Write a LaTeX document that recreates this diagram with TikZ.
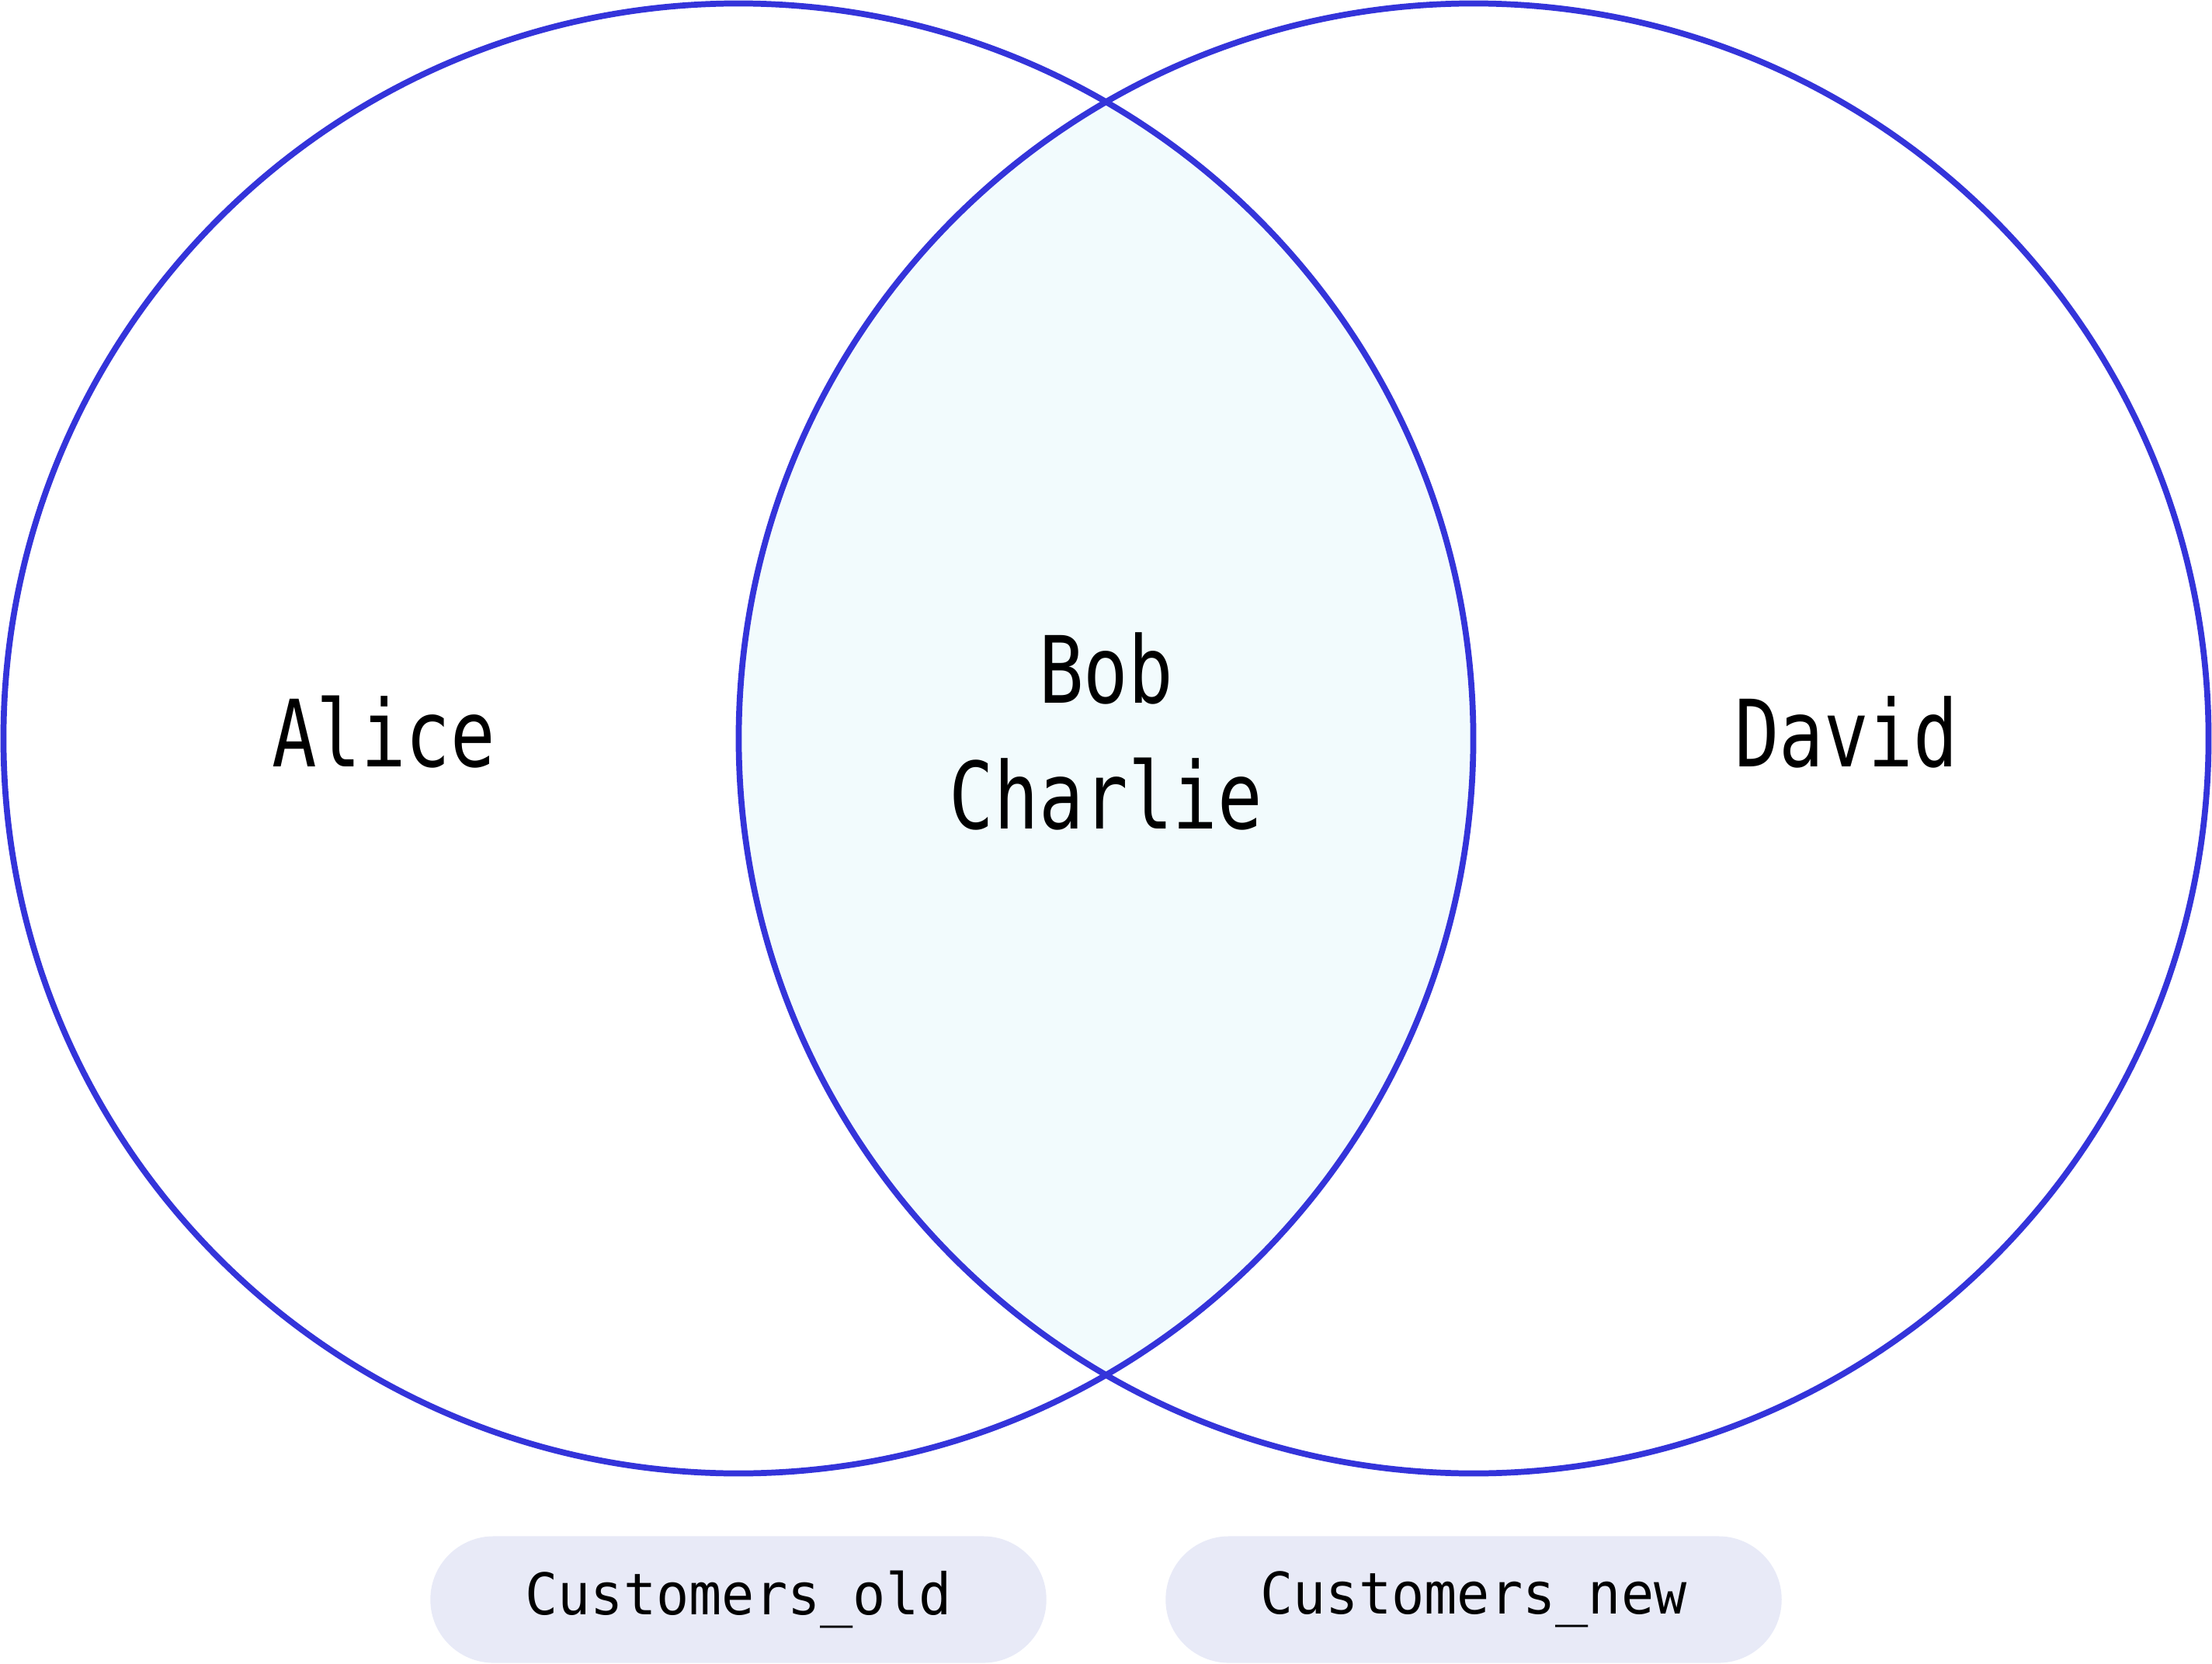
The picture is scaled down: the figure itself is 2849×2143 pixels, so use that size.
\documentclass[tikz,border=0pt]{standalone}
\usepackage{fontspec}
\usepackage{tikz}
\usetikzlibrary{positioning}
\newfontfamily\vennfont[FakeStretch=0.8]{DejaVu Sans Mono}
\newfontfamily\pillfont[FakeStretch=0.95]{DejaVu Sans Mono}
\definecolor{setblue}{HTML}{3434DA}
\definecolor{overlap}{HTML}{F2FBFD}
\definecolor{pillgray}{HTML}{E8EAF7}
\newcommand{\rad}{9.46cm}

\tikzset{
  setcircle/.style={circle, draw=setblue, line width=2.2pt, minimum size=18.92cm, inner sep=0pt},
  person/.style={font=\vennfont\fontsize{34}{46}\selectfont, align=center, inner sep=0pt},
  tablepill/.style={rounded corners=0.815cm, fill=pillgray, minimum width=7.93cm, minimum height=1.63cm,
    font=\pillfont\fontsize{21}{25}\selectfont, inner sep=0pt}
}

\begin{document}
\begin{tikzpicture}[x=0.01cm, y=-0.01cm]
  \useasboundingbox (0,0) rectangle (2849,2143);
  \coordinate (c1) at (951,951);
  \coordinate (c2) at (1898,951);
  \begin{scope}
    \clip (c1) circle (\rad);
    \fill[overlap] (c2) circle (\rad);
  \end{scope}
  \node[setcircle] (old) at (c1) {};
  \node[setcircle] (new) at (c2) {};

  \node[person, anchor=base] (alice) at (494,987) {Alice};
  \node[person, anchor=base] (bobcharlie) at (1424.5,1067) {Bob\\Charlie};
  \node[person, anchor=base] (david) at (2378,987) {David};

  \node[tablepill] (oldlabel) at (951,2060) {Customers\_old};
  \node[tablepill] (newlabel) at (1898,2060) {Customers\_new};
\end{tikzpicture}
\end{document}
